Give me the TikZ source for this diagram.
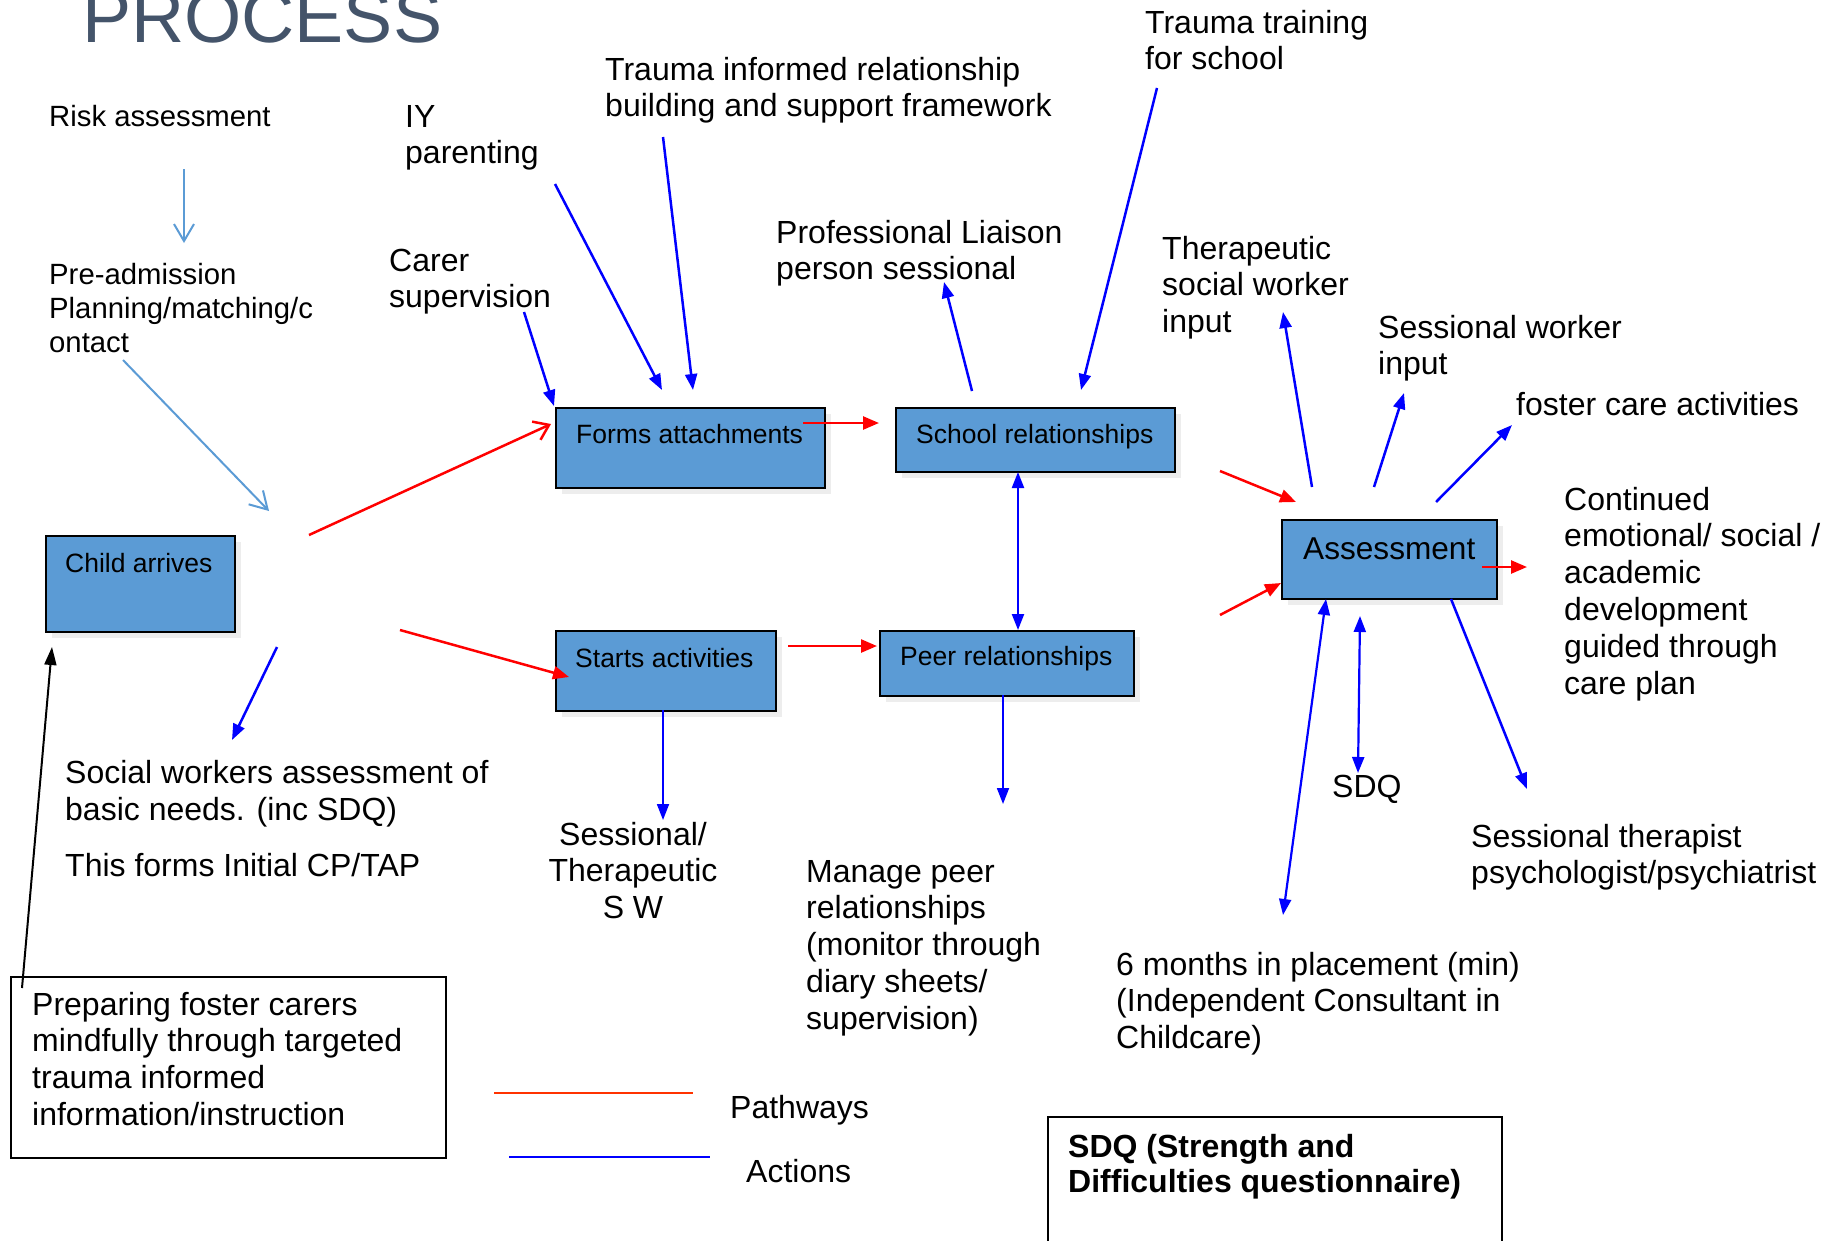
\documentclass[tikz,border=0pt]{standalone}
\usepackage{fontspec}
\setmainfont{Liberation Sans}
\usetikzlibrary{arrows.meta,shadows,calc}
\definecolor{boxblue}{RGB}{91,155,213}
\definecolor{lightblue}{RGB}{91,155,213}
\definecolor{titlecol}{RGB}{68,84,106}
\definecolor{actblue}{RGB}{0,0,255}
\definecolor{pathred}{RGB}{255,0,0}
\definecolor{legred}{RGB}{255,51,0}
\begin{document}
\begin{tikzpicture}[x=1pt,y=-1pt,
  txt/.style={font=\fontsize{32}{36.8}\selectfont, align=left, inner sep=0pt, anchor=base west},
  txts/.style={font=\fontsize{29.3}{34}\selectfont, align=left, inner sep=0pt, anchor=base west},
  boxlbl/.style={font=\fontsize{26.5}{30}\selectfont, inner sep=0pt, anchor=base west},
  bluebox/.style={draw=black, line width=2pt, fill=boxblue, inner sep=0pt, anchor=north west,
    drop shadow={shadow xshift=6pt, shadow yshift=-6pt, fill=black!7, opacity=1}},
  plainbox/.style={draw=black, line width=2pt, inner sep=0pt, anchor=north west},
  act/.style={draw=actblue, line width=2.5pt, -{Triangle[length=16pt,width=12pt]}},
  actthin/.style={draw=actblue, line width=1.8pt, -{Triangle[length=16pt,width=12pt]}},
  actboth/.style={draw=actblue, line width=2.2pt, {Triangle[length=16pt,width=12pt]}-{Triangle[length=16pt,width=12pt]}},
  pathw/.style={draw=pathred, line width=2.5pt, -{Triangle[length=16pt,width=13pt]}},
  pathopen/.style={draw=pathred, line width=2.5pt, -{Straight Barb[length=14pt,width=20pt]}},
  pre/.style={draw=lightblue, line width=2pt, -{Straight Barb[length=17pt,width=20pt]}},
  blk/.style={draw=black, line width=2pt, -{Triangle[length=18pt,width=12pt]}}
]
\fill[white] (0,0) rectangle (1827,1240);
\useasboundingbox (0,0) rectangle (1827,1240);

% title
\node[inner sep=0pt, anchor=base west, font=\fontsize{73.6}{80}\selectfont, text=titlecol] (title) at (82,42) {PROCESS};

% boxes
\node[bluebox, minimum width=189pt, minimum height=96pt] (child) at (45,535) {};
\node[bluebox, minimum width=269pt, minimum height=80pt] (forms) at (555,407) {};
\node[bluebox, minimum width=279pt, minimum height=64pt] (school) at (895,407) {};
\node[bluebox, minimum width=220pt, minimum height=80pt] (starts) at (555,630) {};
\node[bluebox, minimum width=254pt, minimum height=65pt] (peer) at (879,630) {};
\node[bluebox, minimum width=215pt, minimum height=79pt] (assess) at (1281,519) {};

\node[boxlbl] (childT) at (65,572) {Child arrives};
\node[boxlbl] (formsT) at (576,443) {Forms attachments};
\node[boxlbl] (schoolT) at (916,443) {School relationships};
\node[boxlbl] (startsT) at (575,667) {Starts activities};
\node[boxlbl] (peerT) at (900,665) {Peer relationships};
\node[boxlbl, font=\fontsize{31.6}{36}\selectfont] (assessT) at (1303,559) {Assessment};

% plain boxes (anchor base = last line baseline)
\node[plainbox, minimum width=435pt, minimum height=181pt] (prep) at (10,976) {};
\node[txt] (prepT) at (32,1125.4) {Preparing foster carers\\mindfully through targeted\\trauma informed\\information/instruction};
\node[plainbox, minimum width=454pt, minimum height=140pt] (sdqbox) at (1047,1116) {};
\node[txt, font=\fontsize{32}{35}\bfseries] (sdqT) at (1068,1192) {SDQ (Strength and\\Difficulties questionnaire)};

% labels
\node[txts] (risk) at (49,126) {Risk assessment};
\node[txts] (preadm) at (49,352) {Pre-admission\\Planning/matching/c\\ontact};
\node[txt] (iy) at (405,163.8) {IY\\parenting};
\node[txt] (carer) at (389,307.8) {Carer\\supervision};
\node[txt] (tirb) at (605,116.8) {Trauma informed relationship\\building and support framework};
\node[txt] (tts) at (1145,69.8) {Trauma training\\for school};
\node[txt] (pls) at (776,279.8) {Professional Liaison\\person sessional};
\node[txt] (tsw) at (1162,332.6) {Therapeutic\\social worker\\input};
\node[txt] (swi) at (1378,374.8) {Sessional worker\\input};
\node[txt] (fca) at (1516,415) {foster care activities};
\node[txt] (cont) at (1564,694) {Continued\\emotional/ social /\\academic\\development\\guided through\\care plan};
\node[txt] (swa) at (65,876) {Social workers assessment of\\basic needs. (inc SDQ)\\[19pt]This forms Initial CP/TAP};
\node[txt, align=center, anchor=base] (stsw) at (633,918.6) {Sessional/\\Therapeutic\\S W};
\node[txt] (mpr) at (806,1029.2) {Manage peer\\relationships\\(monitor through\\diary sheets/\\supervision)};
\node[txt] (sdq) at (1332,797) {SDQ};
\node[txt] (stp) at (1471,883.8) {Sessional therapist\\psychologist/psychiatrist};
\node[txt] (six) at (1116,1048.6) {6 months in placement (min)\\(Independent Consultant in\\Childcare)};
\node[txt] (pathL) at (730,1118) {Pathways};
\node[txt] (actL) at (746,1182) {Actions};

% coordinates
\coordinate (riskS) at (184,169);   \coordinate (preE) at (184,243);
\coordinate (preS) at (123,360);    \coordinate (arrE) at (269,511);
\coordinate (carerS) at (524,312);  \coordinate (carerE) at (554,406);
\coordinate (iyS) at (555,184);     \coordinate (iyE) at (662,390);
\coordinate (tirbS) at (663,137);   \coordinate (tirbE) at (693,390);
\coordinate (plsS) at (972,391);    \coordinate (plsE) at (944,282);
\coordinate (ttsS) at (1157,88);    \coordinate (ttsE) at (1081,390);
\coordinate (tswS) at (1312,487);   \coordinate (tswE) at (1283,312);
\coordinate (swiS) at (1374,487);   \coordinate (swiE) at (1404,393);
\coordinate (fcaS) at (1436,502);   \coordinate (fcaE) at (1512,425);
\coordinate (spA) at (1018,472);    \coordinate (spB) at (1018,630);
\coordinate (stS) at (663,710);     \coordinate (stE) at (663,820);
\coordinate (mpS) at (1003,695);    \coordinate (mpE) at (1003,804);
\coordinate (swaS) at (277,647);    \coordinate (swaE) at (232,740);
\coordinate (sixA) at (1326,599);   \coordinate (sixB) at (1283,915);
\coordinate (sdqA) at (1360,616);   \coordinate (sdqB) at (1358,773);
\coordinate (stpS) at (1451,599);   \coordinate (stpE) at (1527,789);
\coordinate (rA) at (309,535);      \coordinate (rAe) at (551,424);
\coordinate (rB) at (400,630);      \coordinate (rBe) at (569,677);
\coordinate (rC) at (803,423);      \coordinate (rCe) at (879,423);
\coordinate (rD) at (788,646);      \coordinate (rDe) at (877,646);
\coordinate (rE) at (1220,471);     \coordinate (rEe) at (1296,502);
\coordinate (rF) at (1220,615);     \coordinate (rFe) at (1281,583);
\coordinate (rG) at (1482,567);     \coordinate (rGe) at (1527,567);
\coordinate (bkS) at (22,988);      \coordinate (bkE) at (52,647);
\coordinate (legR1) at (494,1093);  \coordinate (legR2) at (693,1093);
\coordinate (legB1) at (509,1157);  \coordinate (legB2) at (710,1157);

% light blue
\draw[pre] (riskS) -- (preE);
\draw[pre] (preS) -- (arrE);

% blue actions
\draw[act] (carerS) -- (carerE);
\draw[act] (iyS) -- (iyE);
\draw[act] (tirbS) -- (tirbE);
\draw[act] (plsS) -- (plsE);
\draw[act] (ttsS) -- (ttsE);
\draw[act] (tswS) -- (tswE);
\draw[act] (swiS) -- (swiE);
\draw[act] (fcaS) -- (fcaE);
\draw[actboth] (spA) -- (spB);
\draw[actthin] (stS) -- (stE);
\draw[actthin] (mpS) -- (mpE);
\draw[act] (swaS) -- (swaE);
\draw[actboth] (sixA) -- (sixB);
\draw[actboth] (sdqA) -- (sdqB);
\draw[act] (stpS) -- (stpE);

% red pathways
\draw[pathopen] (rA) -- (rAe);
\draw[pathw] (rB) -- (rBe);
\draw[pathw] (rC) -- (rCe);
\draw[pathw] (rD) -- (rDe);
\draw[pathw] (rE) -- (rEe);
\draw[pathw] (rF) -- (rFe);
\draw[pathw] (rG) -- (rGe);

% black
\draw[blk] (bkS) -- (bkE);

% legend
\draw[legred, line width=2pt] (legR1) -- (legR2);
\draw[actblue, line width=2.5pt] (legB1) -- (legB2);
\end{tikzpicture}
\end{document}
